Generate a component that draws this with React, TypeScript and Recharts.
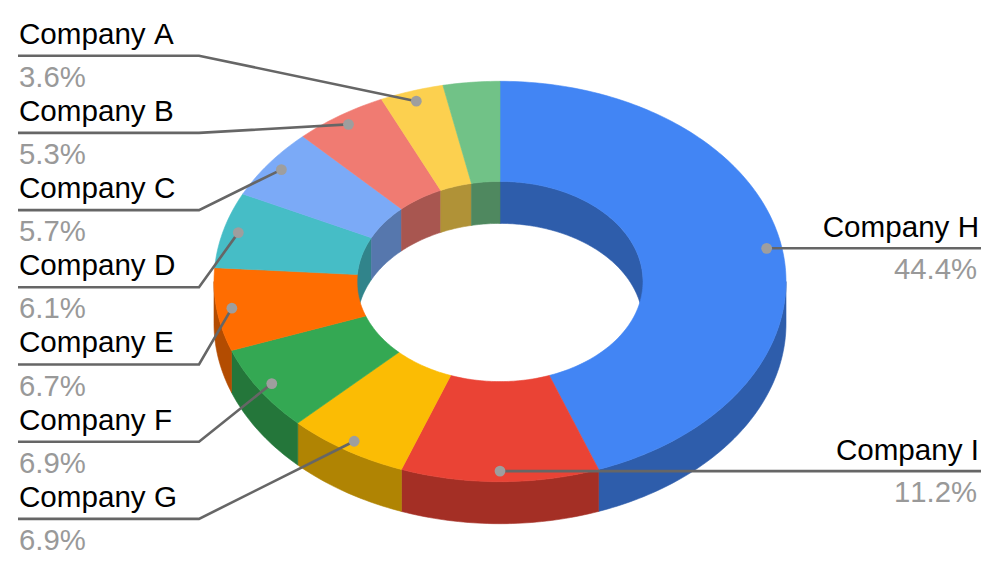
import React from 'react';
import { PieChart, Pie, Cell } from 'recharts';

// slices in drawing order, clockwise from 12 o'clock
const names = ['Company H', 'Company I', 'Company G', 'Company F', 'Company E', 'Company D', 'Company C', 'Company B', 'Company A', ''];
const values = [44.4, 11.2, 6.9, 6.9, 6.7, 6.1, 5.7, 5.3, 3.6, 3.2];
const colors = ['#4285f4', '#ea4335', '#fbbc04', '#34a853', '#ff6d01', '#46bdc6', '#7baaf7', '#f07b72', '#fcd04f', '#71c287'];
const leftColumn = ['Company A', 'Company B', 'Company C', 'Company D', 'Company E', 'Company F', 'Company G'];

const data = names.map((name, i) => ({ name, value: values[i] }));

const WIDTH = 1000;
const HEIGHT = 571;
const CX = 500;
const CY = 281.5;
const OUTER = 286;
const INNER = 143;
const SQUASH = 0.7; // flattening of the disc
const DEPTH = 42;
const FONT = '"Liberation Sans", Arial, sans-serif';
const TEXT_STYLE = { fontKerning: 'none' } as React.CSSProperties;

const RAD = Math.PI / 180;

const point = (cx: number, cy: number, r: number, deg: number, dy = 0) =>
  `${cx + r * Math.cos(deg * RAD)} ${cy - r * SQUASH * Math.sin(deg * RAD) + dy}`;

const curve = (cx: number, cy: number, r: number, from: number, to: number, dy = 0) => {
  const steps = Math.max(2, Math.ceil(Math.abs(from - to)));
  const pts: string[] = [];
  for (let i = 0; i <= steps; i++) pts.push(point(cx, cy, r, from + ((to - from) * i) / steps, dy));
  return pts;
};

const toPath = (pts: string[]) => `M${pts.join('L')}Z`;

const darken = (hex: string) => {
  const n = parseInt(hex.slice(1), 16);
  const c = (v: number) => Math.round(v * 0.7);
  return `rgb(${c((n >> 16) & 255)},${c((n >> 8) & 255)},${c(n & 255)})`;
};

// wall of the ring, cut down to the angle ranges where it can be seen
const wall = (props: any, radius: number, ranges: number[][]) => {
  const { cx, cy, startAngle, endAngle, fill } = props;
  const shade = darken(fill);
  return (
    <g>
      {ranges.map(([lo, hi]) => {
        const a = Math.min(startAngle, hi);
        const b = Math.max(endAngle, lo);
        if (a <= b) return null;
        const pts = [...curve(cx, cy, radius, a, b), ...curve(cx, cy, radius, b, a, DEPTH)];
        return <path key={lo} d={toPath(pts)} fill={shade} stroke={shade} strokeWidth={0.6} />;
      })}
    </g>
  );
};

const OuterWall = (props: any) => wall(props, props.outerRadius, [[-180, 0]]);
const InnerWall = (props: any) => wall(props, props.innerRadius, [[0, 90], [-270, -180]]);

const TopFace = (props: any) => {
  const { cx, cy, innerRadius, outerRadius, startAngle, endAngle, fill } = props;
  const pts = [...curve(cx, cy, outerRadius, startAngle, endAngle), ...curve(cx, cy, innerRadius, endAngle, startAngle)];
  return <path d={toPath(pts)} fill={fill} stroke={fill} strokeWidth={0.6} />;
};

const renderLabel = (props: any) => {
  const { cx, cy, outerRadius, midAngle, index } = props;
  const name = names[index];
  if (!name) return <g />;
  const r = outerRadius * 0.947;
  const dotX = cx + r * Math.cos(midAngle * RAD);
  const dotY = cy - r * SQUASH * Math.sin(midAngle * RAD);
  const row = leftColumn.indexOf(name);
  const pct = `${values[index]}%`;

  if (row >= 0) {
    const lineY = 55.7 + row * 77.2;
    return (
      <g>
        <polyline points={`18,${lineY} 199,${lineY} ${dotX},${dotY}`} fill="none" stroke="#666666" strokeWidth={2.6} />
        <circle cx={dotX} cy={dotY} r={5.4} fill="#9e9e9e" />
        <text x={19} y={lineY - 12.2} fontFamily={FONT} fontSize={29.6} fill="#000000" style={TEXT_STYLE}>{name}</text>
        <text x={19} y={lineY + 31} fontFamily={FONT} fontSize={29.3} fill="#999999" style={TEXT_STYLE}>{pct}</text>
      </g>
    );
  }
  return (
    <g>
      <polyline points={`981,${dotY} ${dotX},${dotY}`} fill="none" stroke="#666666" strokeWidth={2.6} />
      <circle cx={dotX} cy={dotY} r={5.4} fill="#9e9e9e" />
      <text x={979} y={dotY - 11} textAnchor="end" fontFamily={FONT} fontSize={29.6} fill="#000000" style={TEXT_STYLE}>{name}</text>
      <text x={977} y={dotY + 30.5} textAnchor="end" fontFamily={FONT} fontSize={29.3} fill="#999999" style={TEXT_STYLE}>{pct}</text>
    </g>
  );
};

const cells = () => colors.map((c, i) => <Cell key={`cell-${i}`} fill={c} />);

const App: React.FC = () => {
  const ring = {
    data,
    dataKey: 'value',
    nameKey: 'name',
    cx: CX,
    cy: CY,
    innerRadius: INNER,
    outerRadius: OUTER,
    startAngle: 90,
    endAngle: -270,
    isAnimationActive: false,
  };
  return (
    <div style={{ position: 'absolute', left: 0, top: 0, width: WIDTH, height: HEIGHT, background: '#fff' }}>
      <PieChart width={WIDTH} height={HEIGHT} margin={{ top: 0, right: 0, bottom: 0, left: 0 }}>
        <Pie {...ring} shape={OuterWall} label={false} labelLine={false}>{cells()}</Pie>
        <Pie {...ring} shape={InnerWall} label={false} labelLine={false}>{cells()}</Pie>
        <Pie {...ring} shape={TopFace} label={renderLabel} labelLine={false}>{cells()}</Pie>
      </PieChart>
    </div>
  );
};

export default App;
